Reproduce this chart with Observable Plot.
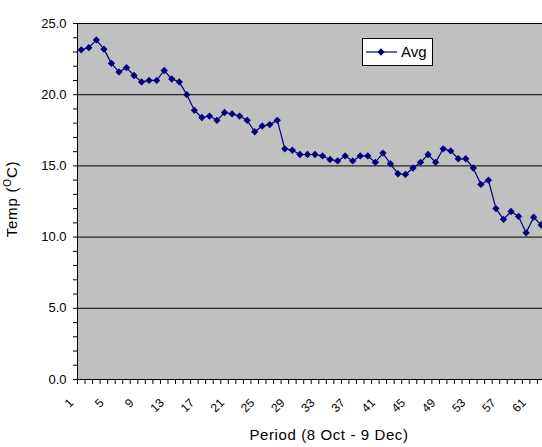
<!DOCTYPE html>
<html><head><meta charset="utf-8">
<script src="https://cdn.jsdelivr.net/npm/d3@7"></script>
<script src="https://cdn.jsdelivr.net/npm/@observablehq/plot@0.6"></script>
<style>html,body{margin:0;padding:0;overflow:hidden;background:#fff} svg{max-width:none !important;}</style>
</head><body><div id="chart"></div>
<script>
const seriesName = "Avg";
const days = [1,2,3,4,5,6,7,8,9,10,11,12,13,14,15,16,17,18,19,20,21,22,23,24,25,26,27,28,29,30,31,32,33,34,35,36,37,38,39,40,41,42,43,44,45,46,47,48,49,50,51,52,53,54,55,56,57,58,59,60,61,62];
const avg = [23.15,23.3,23.85,23.2,22.2,21.6,21.9,21.35,20.9,21.0,21.0,21.7,21.1,20.9,20.0,18.9,18.4,18.5,18.2,18.75,18.65,18.5,18.2,17.4,17.8,17.9,18.2,16.2,16.1,15.8,15.8,15.8,15.7,15.45,15.35,15.7,15.35,15.7,15.7,15.25,15.9,15.15,14.45,14.4,14.85,15.25,15.8,15.25,16.2,16.05,15.5,15.5,14.85,13.7,14.0,12.0,11.25,11.8,11.45,10.3,11.4,10.85];
const xTickLabels = [1,5,9,13,17,21,25,29,33,37,41,45,49,53,57,61];
const yTickLabels = [0,5,10,15,20,25];
const nCategories = 63;

const data = days.map((d,i)=>({day:d, avg:avg[i]}));
const navy = "#000080";
const font = "Arial, 'Liberation Sans', sans-serif";

const chart = Plot.plot({
  width: 552, height: 447,
  marginLeft: 77, marginRight: 0, marginTop: 23, marginBottom: 68,
  style: {fontFamily: font, fontSize: "13px", background: "white", color: "black", maxWidth: "none"},
  x: {type: "linear", domain: [0.5, nCategories + 0.5]},
  y: {domain: [0, 25]},
  marks: [
    Plot.frame({fill: "#c0c0c0", stroke: null}),
    Plot.ruleY(yTickLabels, {stroke: "black", strokeWidth: 1}),
    Plot.ruleX([0.5], {stroke: "black"}),
    Plot.axisY({ticks: d3.range(0, 26, 1), tickSize: 4, tickPadding: 7, label: null,
      tickFormat: d => yTickLabels.includes(d) ? d.toFixed(1) : "", fontSize: 13}),
    Plot.axisX({ticks: d3.range(0.5, nCategories + 0.6, 1), tickSize: 5, tickFormat: () => "", label: null}),
    Plot.text(xTickLabels, {x: d => d, frameAnchor: "bottom", dy: 24, dx: -7, rotate: -45, textAnchor: "end", fontSize: 12}),
    Plot.line(data, {x: "day", y: "avg", stroke: navy, strokeWidth: 1.2}),
    Plot.dot(data, {x: "day", y: "avg", symbol: "diamond2", r: 3.3, fill: navy, stroke: null})
  ]
});
chart.style.maxWidth = "none";
document.getElementById("chart").appendChild(chart);

const svg = d3.select(chart);
// axis titles
svg.append("text").attr("x", 329).attr("y", 440).attr("text-anchor", "middle")
  .attr("font-family", font).attr("font-size", 15).attr("letter-spacing", "0.6px").attr("fill", "black")
  .text("Period (8 Oct - 9 Dec)");
const yt = svg.append("text").attr("transform", "translate(17,199) rotate(-90)").attr("text-anchor", "middle")
  .attr("font-family", font).attr("font-size", 15).attr("letter-spacing", "0.8px").attr("fill", "black");
yt.append("tspan").text("Temp (");
yt.append("tspan").attr("font-size", 10).attr("dy", -6).text("O");
yt.append("tspan").attr("dy", 6).text("C)");
// legend
const lg = svg.append("g");
lg.append("rect").attr("x", 362.5).attr("y", 38.5).attr("width", 70).attr("height", 27)
  .attr("fill", "white").attr("stroke", "black");
lg.append("line").attr("x1", 366).attr("x2", 397).attr("y1", 52).attr("y2", 52).attr("stroke", navy).attr("stroke-width", 1.2);
lg.append("path").attr("d", d3.symbol(d3.symbolDiamond2, 34)()).attr("transform", "translate(381,52)").attr("fill", navy);
lg.append("text").attr("x", 401).attr("y", 57).attr("text-anchor", "start").attr("font-family", font).attr("font-size", 15).attr("fill", "black").text(seriesName);
</script>
</body></html>
